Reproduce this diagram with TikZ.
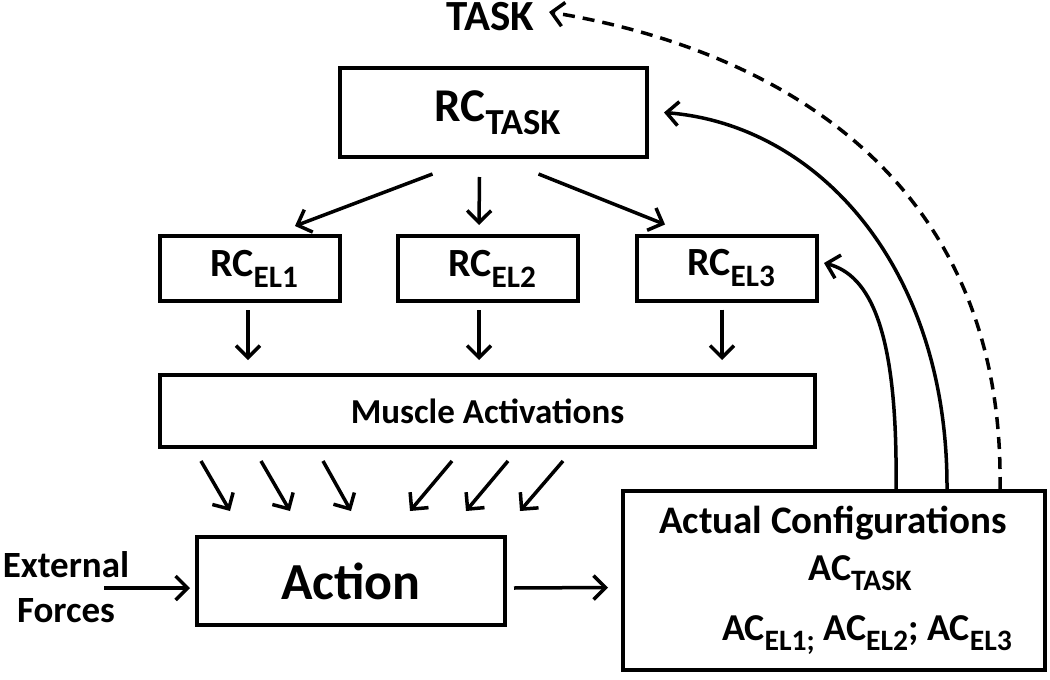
\documentclass[tikz,border=0pt]{standalone}
\usepackage{fontspec}
\setmainfont{Carlito}
\usetikzlibrary{positioning,arrows.meta,calc}

\newcommand\lowsub[1]{\raisebox{-0.28em}{\scalebox{0.78}{#1}}}

\begin{document}
\begin{tikzpicture}[
        x=1pt, y=-1pt,
        box/.style={
            rectangle,
            draw,
            line width=4pt,
            inner sep=0pt,
            align=center
        },
        txt/.style={
            inner sep=0pt,
            align=center
        },
        arrow/.style={
            -{Straight Barb[length=12pt,width=24pt]},
            line width=3.5pt
        },
        fbarrow/.style={
            -{Straight Barb[length=12pt,width=24pt]},
            line width=3.5pt
        }
    ]
    \useasboundingbox (0,0) rectangle (1050,680);

    % Task and reference configurations
    \node[txt, font=\fontsize{43}{50}\selectfont\bfseries] (task) at (490,17) {TASK};
    \node[box, minimum width=307pt, minimum height=89pt,
          font=\fontsize{47}{56}\selectfont\bfseries] (rctask) at (493.5,112.5) {\hspace*{8pt}RC\lowsub{TASK}};

    \node[box, minimum width=180pt, minimum height=65pt,
          font=\fontsize{40}{48}\selectfont\bfseries] (rcel1) at (250,268.5) {\hspace*{8pt}RC\lowsub{EL1}};
    \node[box, minimum width=180pt, minimum height=65pt,
          font=\fontsize{40}{48}\selectfont\bfseries] (rcel2) at (488,268.5) {\hspace*{8pt}RC\lowsub{EL2}};
    \node[box, minimum width=180pt, minimum height=65pt,
          font=\fontsize{40}{48}\selectfont\bfseries] (rcel3) at (727,268) {\hspace*{8pt}RC\lowsub{EL3}};

    % Muscles and action
    \node[box, minimum width=655pt, minimum height=72pt,
          font=\fontsize{35}{42}\selectfont\bfseries] (muscle) at (487.5,411) {Muscle Activations};
    \node[box, minimum width=308pt, minimum height=88pt,
          font=\fontsize{52}{60}\selectfont\bfseries] (action) at (351,581) {Action};
    \node[txt, font=\fontsize{37}{45}\selectfont\bfseries] (extforce) at (66,587) {External\\Forces};

    % Actual configurations
    \node[box, minimum width=422pt, minimum height=179pt] (acbox) at (834,580.5) {};
    \node[txt, anchor=base, font=\fontsize{39}{46}\selectfont\bfseries] (actitle) at (833,533) {Actual Configurations};
    \node[txt, anchor=base, font=\fontsize{38}{46}\selectfont\bfseries] (actask) at (860,580) {AC\lowsub{TASK}};
    \node[txt, anchor=base, font=\fontsize{38}{46}\selectfont\bfseries] (acel) at (867,640)
        {AC\lowsub{EL1;} AC\lowsub{EL2}; AC\lowsub{EL3}};

    % Top-down connections
    \draw[arrow] ($(rctask.south)+(-61,15)$) -- ($(rcel1.north)+(45,-8)$);
    \draw[arrow] ($(rctask.south)+(-14,18)$) -- ($(rcel2.north)+(-9,-9)$);
    \draw[arrow] ($(rctask.south)+(45,15)$) -- ($(rcel3.north)+(-62,-9)$);

    \draw[arrow, shorten <=7pt, shorten >=13pt] ([xshift=-2pt]rcel1.south) -- ([xshift=-2pt]rcel1.south |- muscle.north);
    \draw[arrow, shorten <=7pt, shorten >=13pt] ([xshift=-9pt]rcel2.south) -- ([xshift=-9pt]rcel2.south |- muscle.north);
    \draw[arrow, shorten <=7pt, shorten >=13pt] ([xshift=-5pt]rcel3.south) -- ([xshift=-5pt]rcel3.south |- muscle.north);

    \foreach \a/\b in {43/35, 103/95, 165/156, 294/215, 350/271, 405/325}
        \draw[arrow] ($(muscle.south west)+(\a,12)$) -- ($(action.north west)+(\b,-24)$);

    \draw[arrow] ($(action.west)+(-91,7)$) -- ($(action.west)+(-5,7)$);
    \draw[arrow] ($(action.east)+(7,7)$) -- ($(acbox.west)+(-13,7)$);

    % Feedback from actual configurations
    \draw[fbarrow] ($(acbox.north west)+(275,0)$) .. controls (898,330) and (870,275) .. ($(rcel3.east)+(5,-5)$);
    \draw[fbarrow] ($(acbox.north west)+(326,0)$) .. controls (948,270) and (820,125) .. ($(rctask.east)+(15,0)$);
    \draw[fbarrow, dash pattern=on 12pt off 8pt] ($(acbox.north west)+(379,0)$) .. controls (1005,180) and (780,50) .. ($(task.east)+(15,-5)$);

\end{tikzpicture}
\end{document}
